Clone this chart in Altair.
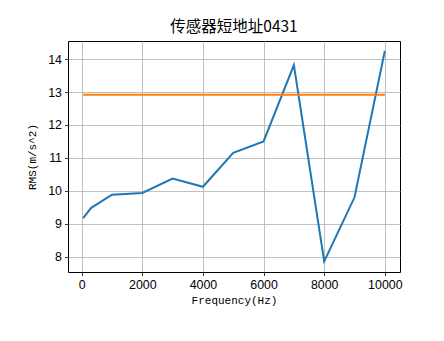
import altair as alt
import pandas as pd

freq = [50, 315, 1000, 2000, 3000, 4000, 5000, 6000, 7000, 8000, 9000, 10000]
rms = [9.17, 9.48, 9.88, 9.93, 10.37, 10.12, 11.15, 11.50, 13.82, 7.85, 9.80, 14.25]
limit_freq = [50, 10000]
limit_rms = [12.92, 12.92]
title = "传感器短地址0431"
x_ticks = [0, 2000, 4000, 6000, 8000, 10000]
y_ticks = [8, 9, 10, 11, 12, 13, 14]

df = pd.DataFrame({"freq": freq, "rms": rms})
dl = pd.DataFrame({"freq": limit_freq, "rms": limit_rms})

xs = alt.Scale(domain=[-450, 10500], nice=False, zero=False)
ys = alt.Scale(domain=[7.53, 14.55], nice=False, zero=False)

xaxis = alt.Axis(title="Frequency(Hz)", values=x_ticks, format="d", labelOverlap=False)
yaxis = alt.Axis(title="RMS(m/s^2)", values=y_ticks, format="d", labelOverlap=False)

line = alt.Chart(df).mark_line(color="#1f77b4", strokeWidth=2).encode(
    x=alt.X("freq:Q", scale=xs, axis=xaxis),
    y=alt.Y("rms:Q", scale=ys, axis=yaxis),
)
lim = alt.Chart(dl).mark_line(color="#ff7f0e", strokeWidth=2).encode(
    x=alt.X("freq:Q", scale=xs, axis=xaxis),
    y=alt.Y("rms:Q", scale=ys, axis=yaxis),
)

chart = (
    alt.layer(line, lim)
    .properties(
        width=332,
        height=231,
        title=alt.TitleParams(title, font="Noto Sans CJK SC", fontSize=15.5,
                              fontWeight="normal", color="black", offset=6),
        autosize=alt.AutoSizeParams(type="none"),
        padding={"left": 68, "top": 41, "right": 44, "bottom": 69},
    )
    .configure_view(stroke="black", strokeWidth=1)
    .configure_axis(
        grid=True, gridColor="#b0b0b0", gridWidth=0.8,
        domain=False, tickColor="black", tickSize=3.5, tickWidth=0.8,
        labelFont="Liberation Sans", labelFontSize=12.4, labelColor="black",
        labelPadding=3,
        titleFont="Liberation Mono", titleFontSize=11, titleFontWeight="normal",
        titleColor="black",
    )
    .configure_axisX(titlePadding=4)
    .configure_axisY(titlePadding=10)
)

chart.save("out.html", embed_options={"renderer": "svg", "actions": False})
